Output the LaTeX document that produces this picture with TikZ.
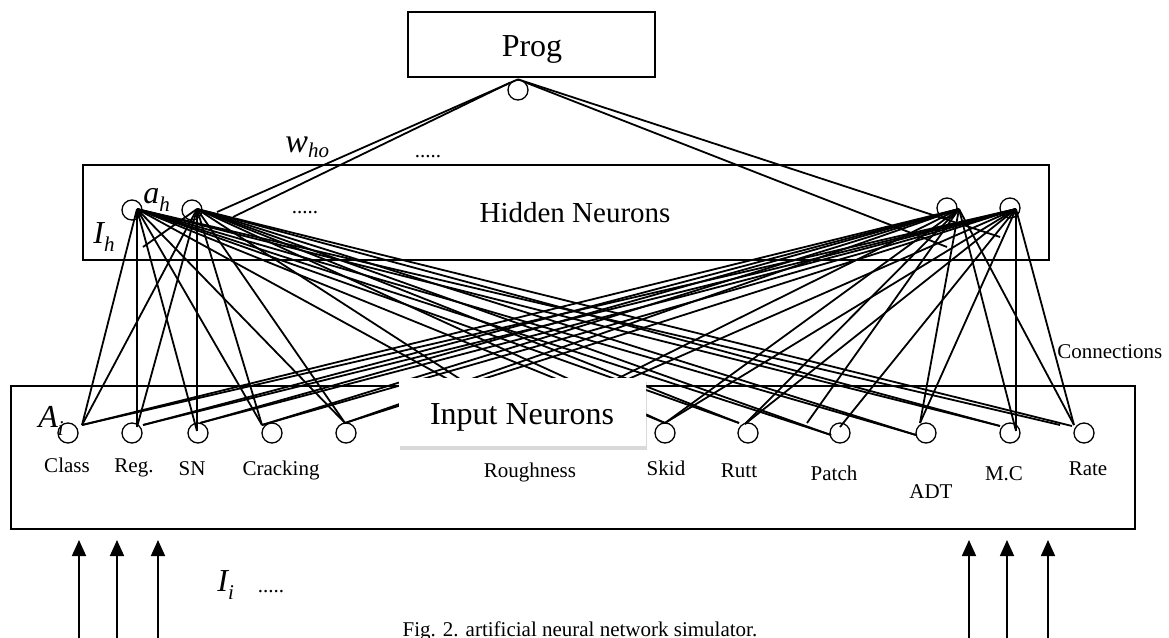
\documentclass[tikz,border=0pt]{standalone}
\usepackage{fontspec}
\setmainfont{Liberation Serif}
\usetikzlibrary{arrows.meta,shadows}
% lowered italic subscript
\newcommand\lsub[2][-0.25em]{\raisebox{#1}{\fontsize{10.5}{12}\selectfont #2}}

\begin{document}
\begin{tikzpicture}[x=0.5pt,y=-0.5pt,
  box/.style={draw,line width=1.1pt,inner sep=0pt},
  neuron/.style={circle,draw,line width=0.65pt,minimum size=10pt,inner sep=0pt},
  conn/.style={line width=0.9pt},
  lbl/.style={font=\fontsize{10.5}{12}\selectfont,anchor=base,inner sep=0pt},
  big/.style={font=\fontsize{16}{19}\selectfont,anchor=base,inner sep=0pt},
  sym/.style={font=\fontsize{16}{19}\selectfont\itshape,anchor=base west,inner sep=0pt},
  feed/.style={line width=0.85pt,-{Triangle[length=8pt,width=7pt]}}
]
\useasboundingbox (0,0) rectangle (1169,638);

% ---- layer boxes
\node[box,minimum width=123.5pt,minimum height=32.5pt] (progbox) at (531.5,44.5) {};
\node[box,minimum width=483pt,minimum height=47.5pt] (hidbox) at (566,212.5) {};
\node[box,minimum width=562pt,minimum height=71.5pt] (inbox) at (573,457.5) {};

% ---- output neuron
\node[neuron] (out) at (518,90) {};

% ---- hidden neurons and the points their connections leave from
\node[neuron] (hn1) at (132,210) {};
\node[neuron] (hn2) at (192,210) {};
\node[neuron] (hn3) at (947,208) {};
\node[neuron] (hn4) at (1010,208) {};
\coordinate (h1) at (137,209);
\coordinate (h2) at (197,209);
\coordinate (h3) at (959,209);
\coordinate (h4) at (1016,209);

% ---- input neurons
\foreach \n/\x in {cls/68,reg/132,sn/198,crk/272,in5/346,rgh/528,skd/665,rut/748,pat/840,adt/926,mc/1010,rat/1084}
  \node[neuron] (\n) at (\x,433) {};

% where connections meet each input neuron (L: from the left hidden pair, R: from the right pair)
\coordinate (cls-L) at (82,425);   \coordinate (cls-R) at (82,425);
\coordinate (reg-L) at (137,427);  \coordinate (reg-R) at (143,425);
\coordinate (sn-L)  at (197,431);  \coordinate (sn-R)  at (200,423);
\coordinate (crk-L) at (262,425);  \coordinate (crk-R) at (262,425);
\coordinate (in5-L) at (345,423);  \coordinate (in5-R) at (345,423);
\coordinate (rgh-L) at (528,423);  \coordinate (rgh-R) at (528,423);
\coordinate (skd-L) at (665,423);  \coordinate (skd-R) at (665,423);
\coordinate (rut-L) at (739,423);  \coordinate (rut-R) at (745,424);
\coordinate (pat-L) at (831,435);  \coordinate (pat-R) at (840,427);
\coordinate (adt-L) at (916,435);  \coordinate (adt-R) at (920,423);
\coordinate (mc-L)  at (1000,426); \coordinate (mc-R)  at (1016,431);
\coordinate (rat-L) at (1072,426); \coordinate (rat-R) at (1074,425);
\coordinate (rat-S) at (1060,425);
\coordinate (pat-S) at (807,423);

% ---- hidden -> input connections
\foreach \n in {cls,reg,sn,crk,in5,rgh,skd,rut,pat,adt,mc}
  \draw[conn] (h1) -- (\n-L);
\draw[conn] (h1) -- (rat-S);
\foreach \n in {cls,reg,sn,crk,in5,rgh,skd,rut,pat,adt,mc,rat}
  \draw[conn] (h2) -- (\n-L);
\foreach \n in {cls,reg,sn,crk,in5,rgh,skd,rut,adt,mc,rat}
  \draw[conn] (h3) -- (\n-R);
\draw[conn] (h3) -- (pat-S);
\foreach \n in {cls,reg,sn,crk,in5,rgh,skd,rut,pat,adt,mc,rat}
  \draw[conn] (h4) -- (\n-R);

% short input stub into the hidden layer
\coordinate (ih) at (143,247);
\draw[conn] (h2) -- (ih);

% ---- hidden -> output weights
\coordinate (wl1) at (217,212);
\coordinate (wl2) at (233,217);
\coordinate (wr1) at (1000,237);
\coordinate (wr2) at (947,247);
\draw[conn] (out.north) -- (wl1);
\draw[conn] (out.135) -- (wl2);
\draw[conn] (out.north) -- (wr1);
\draw[conn] (out.45) -- (wr2);

% ---- input layer title panel
\node[fill=white,minimum width=123.5pt,minimum height=34pt,inner sep=0pt,
      drop shadow={opacity=0.3,shadow xshift=0.5pt,shadow yshift=-2pt}] (inpanel) at (522.5,412) {};

% ---- titles
\node[big] (tprog) at (532,56) {Prog};
\node[big,font=\fontsize{14.5}{17}\selectfont] (thid) at (575,222) {Hidden Neurons};
\node[big] (tin) at (522,424) {Input Neurons};

% ---- input labels
\node[lbl] (lcls) at (67,472) {Class};
\node[lbl] (lreg) at (134,472) {Reg.};
\node[lbl] (lsn)  at (192,475) {SN};
\node[lbl] (lcrk) at (281,475) {Cracking};
\node[lbl] (lrgh) at (530,477) {Roughness};
\node[lbl] (lskd) at (666,475) {Skid};
\node[lbl] (lrut) at (739,477) {Rutt};
\node[lbl] (lpat) at (834,480) {Patch};
\node[lbl] (ladt) at (931,498) {ADT};
\node[lbl] (lmc)  at (1004,480) {M.C};
\node[lbl] (lrat) at (1088,475) {Rate};
\node[lbl,anchor=base west] (lconn) at (1057,358) {Connections};

% ---- symbols
\node[sym] (sah) at (143,203) {a\lsub{h}};
\node[sym] (sih) at (93,243) {I\lsub{h}};
\node[sym,font=\fontsize{17}{20}\selectfont\itshape] (swho) at (285,152) {w\lsub[-0.15em]{ho}};
\node[sym] (sai) at (38,427) {A\lsub{i}};
\node[sym] (sii) at (217,591) {I\lsub{i}};
\node[lbl] (dw) at (428,157) {.....};
\node[lbl] (dh) at (305,213) {.....};
\node[lbl] (di) at (271,592) {.....};

% ---- external inputs
\foreach \k/\x in {1/79,2/117,3/158,4/969,5/1007,6/1048}{
  \coordinate (fb\k) at (\x,660);
  \coordinate (ft\k) at (\x,540);
  \draw[feed] (fb\k) -- (ft\k);
}

% ---- caption
\node[lbl] (cap) at (580,636) {Fig. 2. artificial neural network simulator.};
\end{tikzpicture}
\end{document}
